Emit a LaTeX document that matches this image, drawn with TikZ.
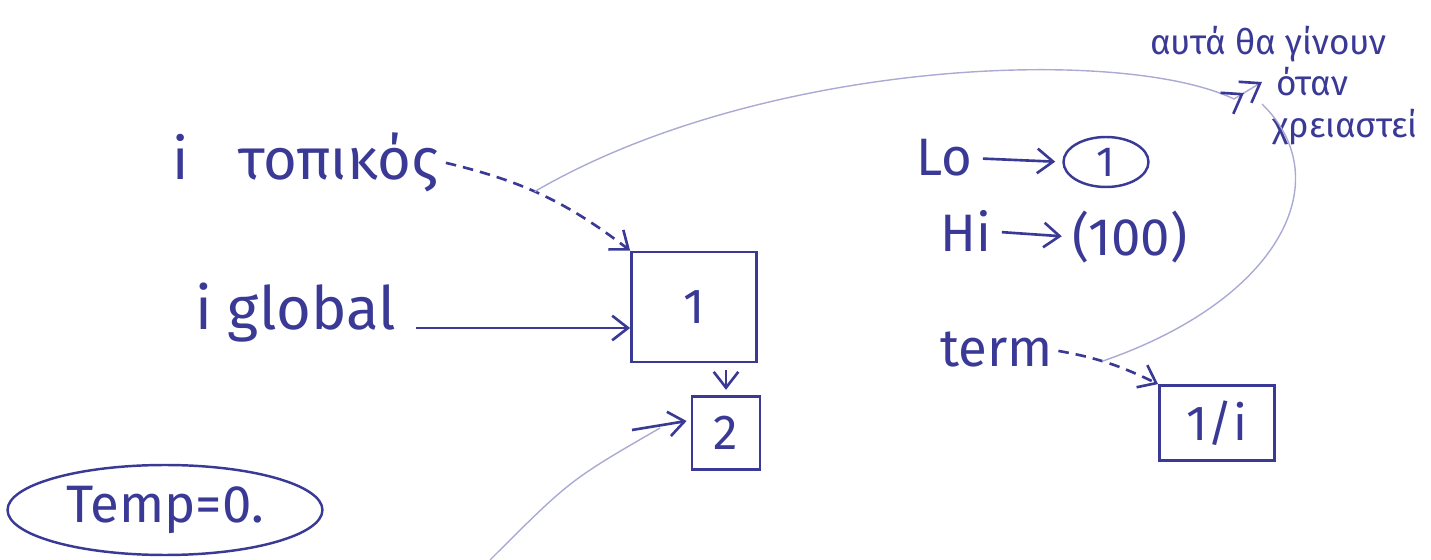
\documentclass[tikz,border=0pt]{standalone}
\usepackage{fontspec}
\setmainfont{Fira Sans}
\usetikzlibrary{arrows.meta,shapes.geometric,calc}
\definecolor{ink}{RGB}{58,58,150}
\definecolor{faint}{RGB}{170,170,212}
\tikzset{
  big/.style={font=\fontsize{30}{34}\selectfont, text=ink, inner sep=0pt},
  small/.style={font=\fontsize{20}{23}\selectfont, text=ink, inner sep=0pt},
  cell/.style={draw=ink, line width=1.6pt, rectangle, inner sep=0pt, font=\fontsize{28}{32}\selectfont, text=ink},
  ring/.style={draw=ink, line width=1.4pt, ellipse, inner sep=0pt, text=ink},
  inkarrow/.style={draw=ink, line width=1.5pt, -{Straight Barb[length=9pt,width=14pt,line width=1.5pt]}},
  dasharrow/.style={inkarrow, dash pattern=on 6pt off 4pt},
  faintline/.style={draw=faint, line width=0.8pt},
}
\begin{document}
\begin{tikzpicture}[x=0.02cm,y=-0.02cm]
\useasboundingbox (0,0) rectangle (1431,560);

% labels
\node[big, font=\fontsize{33}{36}\selectfont, anchor=base west] (ltop) at (172,180) {i\hspace{1.0cm}τοπικός};
\node[big, font=\fontsize{34}{38}\selectfont, anchor=base west] (lglob) at (195,330) {i global};
\node[big, anchor=base west] (Lo) at (916,176) {Lo};
\node[big, anchor=base west] (Hi) at (940,252) {Hi};
\node[big, anchor=base west] (term) at (940,367) {term};
\node[small, anchor=base west] (note1) at (1150,55) {αυτά θα γίνουν};
\node[small, anchor=base west] (note2) at (1276,96) {όταν};
\node[small, anchor=base west] (note3) at (1272,138) {χρειαστεί};

% boxes
\node[cell, minimum width=2.5cm, minimum height=2.2cm] (box1) at (694,307) {1};
\node[cell, minimum width=1.36cm, minimum height=1.46cm] (box2) at (726,433) {2};
\node[cell, minimum width=2.3cm, minimum height=1.5cm] (box3) at (1217,423) {1/i};
\node[ring, minimum width=1.7cm, minimum height=1cm, font=\fontsize{24}{28}\selectfont] (circ1) at (1106,162) {1};
\node[big] (hund) at (1130,237) {(100)};
\node[ring, minimum width=6.3cm, minimum height=1.8cm, font=\fontsize{30}{34}\selectfont] (temp) at (165,510) {Temp=0.};

% coordinates for free ends
\coordinate (ntip) at (1262,82);
\coordinate (bot) at (490,560);
\coordinate (b2s) at (632,430);
\path (lglob.base east) ++(20,-2) coordinate (g0);

% connectors
\draw[dasharrow] ([xshift=4pt]ltop.east) to[bend left=12] coordinate[pos=0.45] (fork) (box1.north west);
\draw[inkarrow] (g0) -- (g0 -| box1.west);
\draw[inkarrow, shorten <=4pt, shorten >=3pt] (box2.north |- box1.south) -- (box2.north);
\draw[faintline] (bot) .. controls (570,480) .. (660,428);
\draw[inkarrow] (b2s) -- ($(box2.west)+(-4,-12)$);
\draw[inkarrow, shorten <=6pt, shorten >=4pt] (Lo.east) -- (circ1.west);
\draw[inkarrow, shorten <=6pt, shorten >=6pt] (Hi.east) -- (hund.west);
\draw[dasharrow, shorten <=3pt] (term.east) to[bend left=8] coordinate[pos=0.45] (tfork) (box3.north west);
\draw[faintline, -{Straight Barb[color=ink,length=10pt,width=14pt,line width=1.5pt] Straight Barb[color=ink,length=10pt,width=14pt,line width=1.5pt]}] (fork) .. controls (760,60) and (1120,45) .. (1234,99) -- (ntip);
\draw[faintline] (tfork) .. controls (1280,300) and (1340,180) .. (1262,104);
\end{tikzpicture}
\end{document}
